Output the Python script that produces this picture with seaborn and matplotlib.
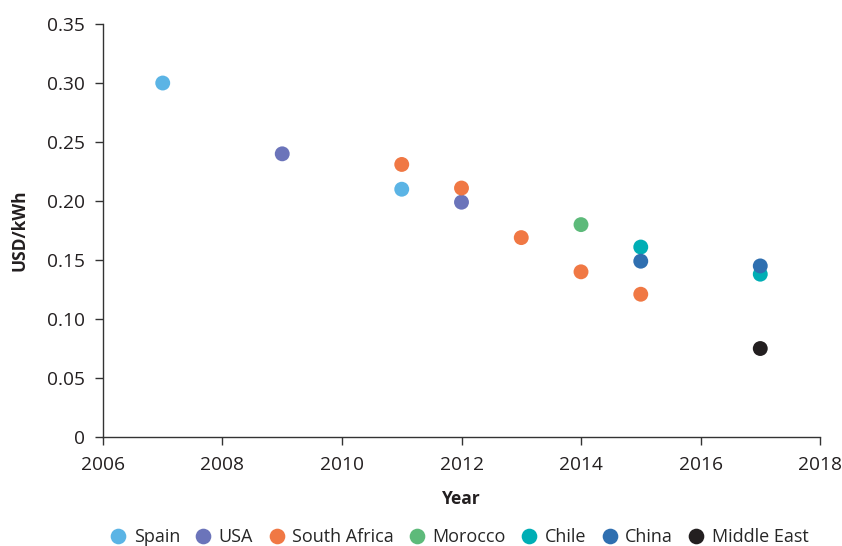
## Levelised cost of electricity by region and year

import pandas as pd
import seaborn as sns
import matplotlib.pyplot as plt
from matplotlib.ticker import FuncFormatter

## Data
regions = ['Spain', 'Spain',
           'USA', 'USA',
           'South Africa', 'South Africa', 'South Africa', 'South Africa', 'South Africa',
           'Morocco',
           'Chile', 'Chile',
           'China', 'China',
           'Middle East']
years = [2007, 2011,
         2009, 2012,
         2011, 2012, 2013, 2014, 2015,
         2014,
         2015, 2017,
         2015, 2017,
         2017]
cost = [0.300, 0.210,
        0.240, 0.199,
        0.231, 0.211, 0.169, 0.140, 0.121,
        0.180,
        0.161, 0.138,
        0.149, 0.145,
        0.075]

order = ['Spain', 'USA', 'South Africa', 'Morocco', 'Chile', 'China', 'Middle East']
colors = ['#5BB4E5', '#6B74BA', '#F07844', '#5DBA7A', '#00AEB5', '#2F6FB0', '#231F20']

df = pd.DataFrame({'Region': regions, 'Year': years, 'USD/kWh': cost})

sns.set_style('ticks')
plt.rcParams['font.family'] = ['Open Sans', 'DejaVu Sans']

fig = plt.figure(figsize=(8.42, 5.46), dpi=100)
ax = fig.add_axes([0.1223, 0.1996, 0.8516, 0.7564])

sns.scatterplot(data=df, x='Year', y='USD/kWh', hue='Region', hue_order=order,
                palette=colors, s=115, linewidth=0, alpha=1, ax=ax, legend=True)

ax.set_xlim(2006, 2018)
ax.set_ylim(0, 0.35)
ax.set_xticks(range(2006, 2019, 2))
ax.set_yticks([i * 0.05 for i in range(8)])
ax.yaxis.set_major_formatter(FuncFormatter(lambda v, p: '0' if abs(v) < 1e-9 else '%.2f' % v))

for s in ['top', 'right']:
    ax.spines[s].set_visible(False)
for s in ['left', 'bottom']:
    ax.spines[s].set_color('#333333')
    ax.spines[s].set_linewidth(1.0)
ax.tick_params(axis='both', direction='out', length=6, width=1, color='#333333',
               labelsize=13.8, labelcolor='#231F20')
ax.tick_params(axis='x', pad=8)
ax.tick_params(axis='y', pad=7)

ax.set_xlabel('Year', fontsize=12.5, fontweight='bold', color='#231F20')
ax.set_ylabel('USD/kWh', fontsize=12.5, fontweight='bold', color='#231F20')
ax.xaxis.set_label_coords(0.5, -0.150)
ax.xaxis.label.set_va('center')
ax.yaxis.set_label_coords(-0.116, 0.5)
ax.yaxis.label.set_va('center')

handles, labels = ax.get_legend_handles_labels()
ax.legend(handles, labels, loc='center', bbox_to_anchor=(0.497, -0.242), ncol=7,
          frameon=False, fontsize=13, handlelength=0.9, handletextpad=0.4,
          columnspacing=0.85, markerscale=1.05, borderaxespad=0)

plt.savefig('out.png', dpi=100)
